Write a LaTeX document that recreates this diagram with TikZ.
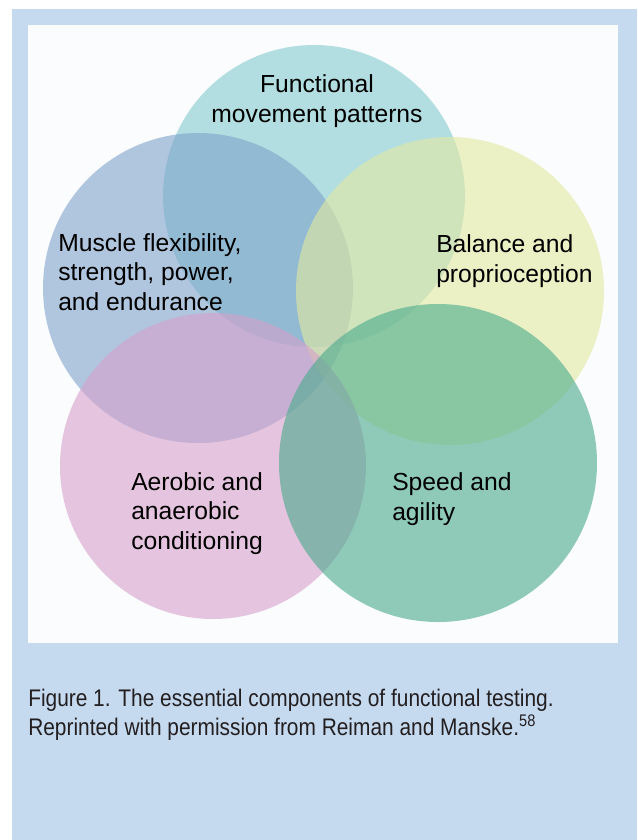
\documentclass[tikz,border=0pt]{standalone}
\usepackage{fontspec}
\setmainfont{Liberation Sans}
\newfontfamily\capfont[FakeStretch=0.87]{Liberation Sans}
\usepackage{tikz}
\definecolor{pagebg}{HTML}{C5D9EF}
\definecolor{panelbg}{HTML}{FBFCFE}
\definecolor{zonecyan}{RGB}{132,203,207}
\definecolor{zoneblue}{RGB}{127,163,202}
\definecolor{zoneyellow}{RGB}{227,233,160}
\definecolor{zonepink}{RGB}{213,160,202}
\definecolor{zonegreen}{RGB}{72,170,140}
\definecolor{captext}{HTML}{231F20}
\newcommand*\zonediam{230pt}
\tikzset{
    zone/.style       = {circle, minimum size=\zonediam, inner sep=0pt, outer sep=0pt,
                        fill opacity=0.6, text opacity=1},
    cyanzone/.style   = {zone, fill=zonecyan},
    bluezone/.style   = {zone, fill=zoneblue},
    yellowzone/.style = {zone, fill=zoneyellow},
    pinkzone/.style   = {zone, fill=zonepink},
    greenzone/.style  = {zone, fill=zonegreen},
    % anchor is the baseline of the last line
    zonelabel/.style  = {align=left, anchor=base west, inner sep=0pt,
                        font=\fontsize{18.5}{22}\selectfont},
    captionlabel/.style = {align=left, anchor=base west, inner sep=0pt, text=captext,
                        font=\capfont\fontsize{18}{21.75}\selectfont},
  }
\begin{document}
\begin{tikzpicture}[x=0.75pt,y=-0.75pt]
    % page and white panel
    \useasboundingbox (0,0) rectangle (637,840);
    \fill[pagebg] (12,9) rectangle (637,840);
    \fill[panelbg] (28,25) rectangle (618,643);

    % the five overlapping zones
    \node[cyanzone,   minimum size=226.5pt] (move)    at (314,196) {};
    \node[bluezone,   minimum size=232.5pt] (muscle)  at (198,288) {};
    \node[yellowzone, minimum size=231pt]   (balance) at (450,291) {};
    \node[pinkzone,   minimum size=229.5pt] (aerobic) at (213,466) {};
    \node[greenzone,  minimum size=238.5pt] (speed)   at (438,463) {};

    % zone labels
    \node[zonelabel, align=center, anchor=base] (movetext) at (317,122)
        {Functional\\movement patterns};
    \node[zonelabel] (muscletext)  at (58,310)  {Muscle flexibility,\\strength, power,\\and endurance};
    \node[zonelabel] (balancetext) at (436,282) {Balance and\\proprioception};
    \node[zonelabel] (aerobictext) at (131,549) {Aerobic and\\anaerobic\\conditioning};
    \node[zonelabel] (speedtext)   at (392,520) {Speed and\\agility};

    % caption below the panel
    \node[captionlabel] (caption) at (28,735)
        {Figure 1. The essential components of functional testing.\\
         Reprinted with permission from Reiman and Manske.\textsuperscript{58}};
\end{tikzpicture}
\end{document}
